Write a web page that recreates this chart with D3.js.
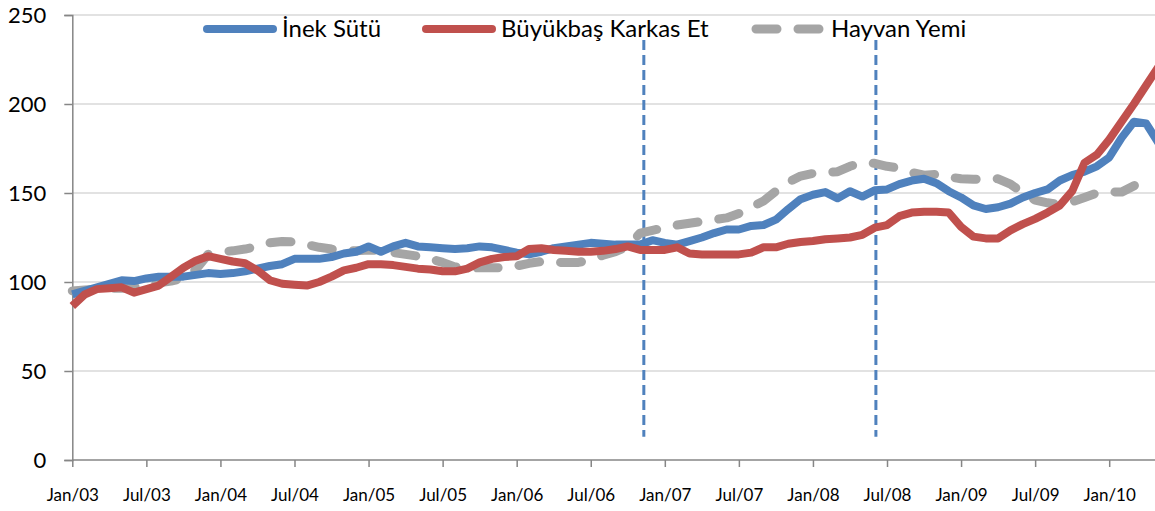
<!DOCTYPE html>
<html>
<head>
<meta charset="utf-8">
<script src="https://cdn.jsdelivr.net/npm/d3@7"></script>
<style>
  body { margin: 0; background: #fff; }
  svg { display: block; font-family: Lato, "Liberation Sans", sans-serif; }
</style>
</head>
<body>
<div id="chart"></div>
<script>
var width = 1155;
var height = 511;

// month index 0 = Jan/03
var tickMonths = [0, 6, 12, 18, 24, 30, 36, 42, 48, 54, 60, 66, 72, 78, 84];
var tickLabels = ["Jan/03", "Jul/03", "Jan/04", "Jul/04", "Jan/05", "Jul/05", "Jan/06", "Jul/06",
  "Jan/07", "Jul/07", "Jan/08", "Jul/08", "Jan/09", "Jul/09", "Jan/10"];
var yTicks = [0, 50, 100, 150, 200, 250];

var seriesNames = ["İnek Sütü", "Büyükbaş Karkas Et", "Hayvan Yemi"];

var inekSutu = [93, 95, 97, 99, 101, 100.5, 102, 103, 103, 103, 104, 105,
  104.5, 105, 106, 107.5, 109, 110, 113, 113, 113, 114, 116, 117,
  120, 117, 120, 122, 120, 119.5, 119, 118.5, 119, 120, 119.5, 118,
  116.5, 115.5, 117, 119, 120, 121, 122, 121.5, 121, 121, 121, 123.5,
  122, 121, 123, 125, 127.5, 129.5, 129.5, 131.5, 132, 135, 141, 146.5,
  149, 150.5, 147, 151, 148, 151.5, 152, 155, 157, 158, 155.5, 151,
  147.5, 143, 141, 142, 144, 147.5, 150, 152, 157, 160, 162, 165,
  170, 181, 190, 189, 178];

var karkasEt = [86.5, 93, 96, 96.5, 97, 94, 96, 98, 103, 108, 112, 114.5,
  113, 111.5, 110.5, 106.5, 101, 99, 98.5, 98, 100, 103, 106.5, 108,
  110, 110, 109.5, 108.5, 107.5, 107, 106, 106, 107.5, 111, 113, 114,
  114.5, 118.5, 119, 118, 117.5, 117, 117, 117.5, 118.5, 120, 118, 118,
  118, 119.5, 116, 115.5, 115.5, 115.5, 115.5, 116.5, 119.5, 119.5, 121.5, 122.5,
  123, 124, 124.5, 125, 126.5, 130.5, 132, 137, 139, 139.5, 139.5, 139,
  131, 125.5, 124.5, 124.5, 129, 132.5, 135.5, 139, 143, 151, 167, 171.5,
  180, 190, 200, 210.5, 221];

var hayvanYemi = [95, 95.5, 96, 96.5, 96.5, 97, 98, 99.5, 100.5, 102, 107, 115.5,
  117, 117.5, 118.5, 120, 122, 122.7, 122.5, 121, 119.5, 118.5, 118, 117.5,
  118, 117.5, 116.5, 115.5, 114.5, 113, 111, 108.5, 107.7, 108, 108, 108,
  109, 110.5, 111.5, 111, 111, 111, 112.5, 115, 117, 120, 127.5, 129,
  130.5, 132, 133, 134, 135, 136, 138.5, 142, 145.5, 151, 156, 159.5,
  161, 161.5, 162, 165, 167, 166.7, 165, 164, 161.5, 160, 160.5, 159,
  158, 157.7, 157.7, 158, 155, 150, 146, 144.5, 143.5, 145, 147.5, 150,
  150.7, 150.5, 154, 157.5];

// the two dashed vertical markers (month index) and their vertical extent in value units
var markerMonths = [46.3, 65.1];
var markerTop = 236;
var markerBottom = 13;

var colors = ["#4F81BD", "#C0504D", "#A5A5A5"];

var svg = d3.select("#chart").append("svg")
  .attr("width", width)
  .attr("height", height);

var x = d3.scaleLinear().domain([0, 84]).range([72.3, 1109.2]);
var y = d3.scaleLinear().domain([0, 250]).range([460, 15]);

// gridlines
svg.append("g")
  .selectAll("line")
  .data(yTicks.filter(d => d > 0))
  .enter().append("line")
  .attr("x1", x(0))
  .attr("x2", width)
  .attr("y1", d => y(d))
  .attr("y2", d => y(d))
  .attr("stroke", "#d9d9d9")
  .attr("stroke-width", 1.5);

// y axis
var yAxis = svg.append("g")
  .attr("transform", "translate(" + x(0) + ",0)")
  .call(d3.axisLeft(y).tickValues(yTicks).tickSize(8).tickPadding(18));
yAxis.select(".domain").attr("stroke", "#868686").attr("stroke-width", 1.5);
yAxis.selectAll(".tick line").attr("stroke", "#868686").attr("stroke-width", 1.5);
yAxis.selectAll("text").attr("font-size", 22).attr("fill", "#000")
  .attr("font-family", "Lato, sans-serif");

// x axis
var xAxis = svg.append("g")
  .attr("transform", "translate(0," + y(0) + ")")
  .call(d3.axisBottom(x).tickValues(tickMonths)
    .tickFormat((d, i) => tickLabels[i]).tickSize(7).tickPadding(22));
xAxis.select(".domain").attr("d", "M" + x(0) + ",0H" + width)
  .attr("stroke", "#868686").attr("stroke-width", 1.5);
xAxis.selectAll(".tick line").attr("stroke", "#868686").attr("stroke-width", 1.5);
xAxis.selectAll("text").attr("font-size", 17).attr("fill", "#000")
  .attr("font-family", "Lato, sans-serif");

// marker lines
svg.append("g")
  .selectAll("line")
  .data(markerMonths)
  .enter().append("line")
  .attr("x1", d => x(d))
  .attr("x2", d => x(d))
  .attr("y1", y(markerTop))
  .attr("y2", y(markerBottom))
  .attr("stroke", "#4F81BD")
  .attr("stroke-width", 3)
  .attr("stroke-dasharray", "10,5");

var line = d3.line()
  .x((d, i) => x(i))
  .y(d => y(d));

var allSeries = [inekSutu, karkasEt, hayvanYemi];

// draw grey first, then blue, red on top
var order = [2, 0, 1];
order.forEach(function (k) {
  svg.append("path")
    .datum(allSeries[k])
    .attr("fill", "none")
    .attr("stroke", colors[k])
    .attr("stroke-width", k == 2 ? 9 : 8)
    .attr("stroke-linejoin", "round")
    .attr("stroke-linecap", k == 2 ? "round" : "butt")
    .attr("stroke-dasharray", k == 2 ? "21,21" : null)
    .attr("d", line);
});

// legend
var legendX = [207, 426, 756];
var legend = svg.append("g");
seriesNames.forEach(function (name, k) {
  legend.append("line")
    .attr("x1", legendX[k])
    .attr("x2", legendX[k] + 66)
    .attr("y1", 29)
    .attr("y2", 29)
    .attr("stroke", colors[k])
    .attr("stroke-width", k == 2 ? 9 : 8)
    .attr("stroke-linecap", "round")
    .attr("stroke-dasharray", k == 2 ? "21,21" : null);
  legend.append("text")
    .attr("x", legendX[k] + 75)
    .attr("y", 37)
    .attr("font-size", 24)
    .attr("fill", "#000")
    .text(name);
});
</script>
</body>
</html>
